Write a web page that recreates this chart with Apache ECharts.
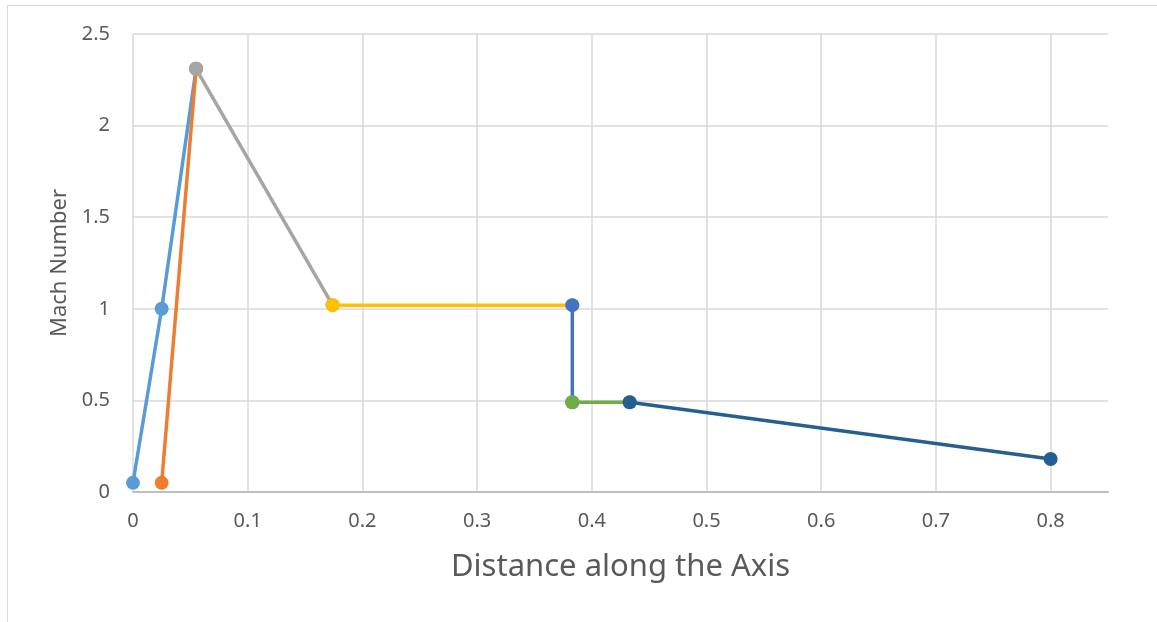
<!DOCTYPE html>
<html>
<head>
<meta charset="utf-8">
<script src="https://cdn.jsdelivr.net/npm/echarts@6/dist/echarts.min.js"></script>
<style>html,body{margin:0;padding:0;background:#fff}#c{width:1157px;height:622px}</style>
</head>
<body>
<div id="c"></div>
<script>
const xTitle = 'Distance along the Axis';
const yTitle = 'Mach Number';
const seriesNames = ['S1','S2','S3','S4','S5','S6','S7'];
const seriesColors = ['#5B9BD5','#ED7D31','#A5A5A5','#FFC000','#4472C4','#70AD47','#255E91'];
const s1 = [[0, 0.05], [0.025, 1.0], [0.055, 2.31]];
const s2 = [[0.025, 0.05], [0.055, 2.31]];
const s3 = [[0.055, 2.31], [0.174, 1.02]];
const s4 = [[0.174, 1.02], [0.383, 1.02]];
const s5 = [[0.383, 1.02], [0.383, 0.49]];
const s6 = [[0.383, 0.49], [0.433, 0.49]];
const s7 = [[0.433, 0.49], [0.8, 0.18]];
const allData = [s1, s2, s3, s4, s5, s6, s7];

const chart = echarts.init(document.getElementById('c'));
const font = 'Noto Sans';
chart.setOption({
  animation: false,
  backgroundColor: '#fff',
  graphic: [{type:'rect', shape:{x:7.5,y:5.5,width:1300,height:800}, style:{fill:'none', stroke:'#d9d9d9', lineWidth:1}, silent:true}],
  grid: {left: 133, right: 49, top: 34, bottom: 130},
  xAxis: {
    type: 'value', min: 0, max: 0.85, interval: 0.1,
    name: xTitle, nameLocation: 'middle', nameGap: 60,
    nameTextStyle: {fontFamily: font, fontSize: 31, color: '#595959'},
    axisLine: {show: true, lineStyle: {color: '#bfbfbf', width: 2}},
    axisTick: {show: false},
    axisLabel: {fontFamily: font, fontSize: 20, color: '#595959', margin: 19, showMaxLabel: false},
    splitLine: {show: true, showMaxLine: false, lineStyle: {color: '#d9d9d9', width: 1.5}}
  },
  yAxis: {
    type: 'value', min: 0, max: 2.5, interval: 0.5,
    name: yTitle, nameLocation: 'middle', nameGap: 62, nameRotate: 90,
    nameTextStyle: {fontFamily: font, fontSize: 22, color: '#595959'},
    axisLine: {show: false},
    axisTick: {show: false},
    axisLabel: {fontFamily: font, fontSize: 20, color: '#595959', margin: 23},
    splitLine: {show: true, lineStyle: {color: '#d9d9d9', width: 1.5}}
  },
  series: allData.map((d, i) => ({
    name: seriesNames[i], type: 'line', data: d,
    symbol: 'circle', symbolSize: 14,
    lineStyle: {width: 3.5, color: seriesColors[i]},
    itemStyle: {color: seriesColors[i]},
    z: 2 + i
  }))
});
</script>
</body>
</html>
